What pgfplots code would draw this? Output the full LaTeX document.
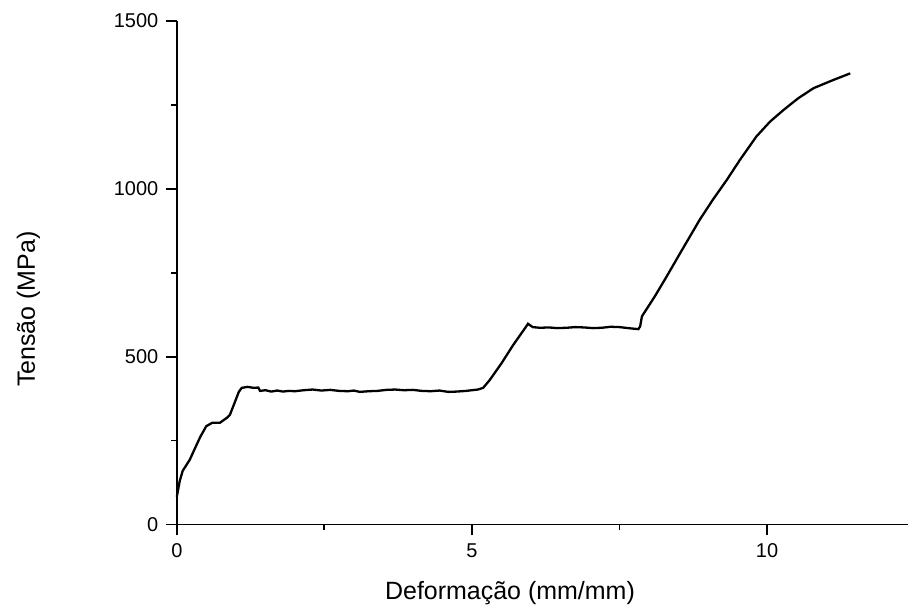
\documentclass[border=0pt]{standalone}
\usepackage{fontspec}
\setmainfont{Liberation Sans}
\usepackage{pgfplots}
\pgfplotsset{compat=1.18}
\begin{document}
\begin{tikzpicture}
\begin{axis}[
  at={(0pt,0pt)}, anchor=south west,
  scale only axis, width=732pt, height=504pt,
  xmin=0, xmax=12.39, ymin=0, ymax=1500,
  axis x line*=bottom, axis y line*=left,
  axis line style={line width=1.8pt},
  xtick={0,5,10}, minor xtick={2.5,7.5},
  xticklabels={0,5,10},
  ytick={0,500,1000,1500}, minor ytick={250,750,1250},
  yticklabels={0,500,1000,1500},
  tick align=outside,
  major tick length=11pt, minor tick length=5.5pt,
  every tick/.style={line width=1.8pt, black},
  xticklabel style={font=\fontsize{20}{24}\selectfont, yshift=-5pt},
  yticklabel style={font=\fontsize{20}{24}\selectfont, xshift=-4pt},
  xlabel={Deformação (mm/mm)},
  ylabel={Tensão (MPa)},
  label style={font=\fontsize{25}{29}\selectfont},
  xlabel style={at={(axis description cs:0.4556,0)}, anchor=base, yshift=-75pt},
  ylabel style={at={(axis description cs:-0.194,0.4276)}, anchor=base},
  clip=false,
]
\addplot[black, line width=2.3pt] coordinates {
(0,83)(0.05,130)(0.1,160)(0.22,193)(0.305,226)(0.4,262)(0.5,293)(0.6,303)(0.73,303)(0.85,318)(0.9,327)(0.98,363)(1.05,395)(1.1,407)(1.2,410)(1.3,407)(1.38,408)(1.41,398)(1.5,400)(1.6,396)(1.7,399)(1.8,396)(1.9,398)(2.0,397)(2.15,400)(2.3,402)(2.45,399)(2.6,401)(2.75,398)(2.9,397)(3.0,399)(3.1,395)(3.25,397)(3.4,398)(3.55,401)(3.7,402)(3.85,400)(4.0,401)(4.15,398)(4.3,397)(4.45,399)(4.6,395)(4.75,396)(4.9,398)(5.0,400)(5.1,402)(5.19,407)(5.3,430)(5.5,480)(5.7,535)(5.9,585)(5.95,598)(6.03,588)(6.15,586)(6.3,587)(6.45,585)(6.6,586)(6.75,588)(6.9,587)(7.05,585)(7.2,586)(7.35,589)(7.5,588)(7.6,586)(7.7,584)(7.82,582)(7.85,590)(7.88,620)(8.1,680)(8.3,739)(8.53,809)(8.86,908)(9.08,967)(9.32,1027)(9.54,1086)(9.82,1156)(10.05,1200)(10.28,1235)(10.53,1270)(10.79,1300)(11.12,1324)(11.41,1344)
};
\end{axis}
\useasboundingbox (-177pt,-86pt) rectangle (732pt,525pt);
\end{tikzpicture}
\end{document}
